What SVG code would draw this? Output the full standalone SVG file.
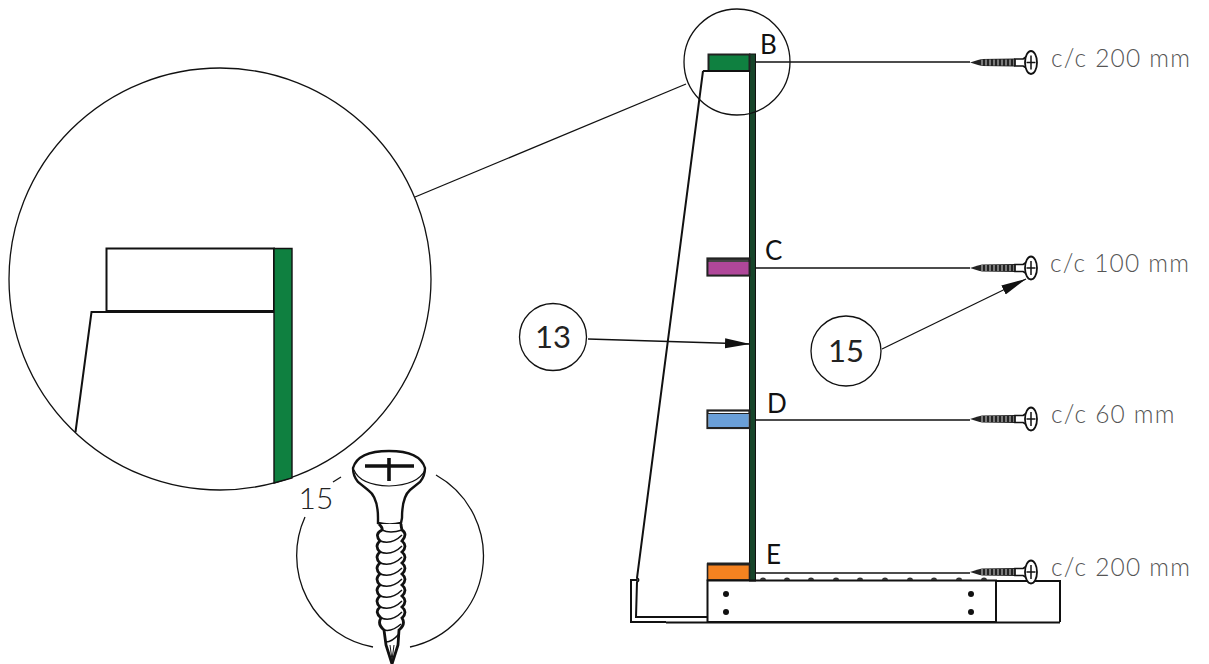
<svg xmlns="http://www.w3.org/2000/svg" width="1209" height="664" viewBox="0 0 1209 664">
<style>
.l{fill:none;stroke:#111;stroke-width:1.3}
.m{fill:none;stroke:#111;stroke-width:2}
.t{font-family:"Lato","Liberation Sans",sans-serif;font-weight:300;font-size:24.5px;fill:#555;letter-spacing:1.2px}
.k{font-family:"Lato","Liberation Sans",sans-serif;font-weight:400;font-size:26px;fill:#111}
.n{font-family:"Lato","Liberation Sans",sans-serif;font-weight:400;font-size:31px;fill:#222;text-anchor:middle}
</style>
<defs>
<marker id="a" markerWidth="26" markerHeight="12" refX="25" refY="6" orient="auto" markerUnits="userSpaceOnUse"><path d="M0 1 L25 6 L0 11 Z" fill="#111"/></marker>
<g id="s">
<path d="M0 0 L8 -2.500 L12 -3.500 L45 -4 L45 4 L12 3.500 L8 2.500 Z" fill="#222"/>
<path d="M12 -3 V3 M16 -3 V3 M20 -3 V3 M24 -3 V3 M28 -3 V3 M32 -3 V3 M36 -3 V3 M40 -3 V3 M44 -3 V3" stroke="#fff" stroke-width=".8" fill="none"/>
<path d="M45 -3.500 H53 Q58 -6 60 -10 L60 11 Q58 6 53 3.500 H45 Z" fill="#fff" stroke="#111" stroke-width="1.700"/>
<ellipse cx="61" cy="0" rx="6" ry="11.500" fill="#fff" stroke="#111" stroke-width="1.800"/>
<path d="M61 -7 V7 M56.500 0 H65.500" stroke="#111" stroke-width="1.500"/>
</g>
</defs>

<g id="connectors">
<path class="l" d="M415 197 L686 84"/>
<path class="l" d="M755 62 H970"/>
<path class="l" d="M755 268 H970"/>
<path class="l" d="M755 420 H970"/>
<path class="l" d="M755 573 H970"/>
<path class="l" d="M588 339 L750 344" marker-end="url(#a)"/>
<path class="l" d="M882 349 L1026 279" marker-end="url(#a)"/>
</g>

<g id="detail-circle">
<circle cx="220" cy="279" r="211" class="l"/>
<rect x="106.500" y="248.500" width="167.500" height="62.500" class="m"/>
<path d="M274 248.500 H292 V478 L274 483 Z" fill="#0f8040" stroke="#111" stroke-width="1.400"/>
<path class="m" d="M75.500 432 L91.500 312 H274"/>
</g>

<g id="screw-detail">
<path class="l" d="M305 517 A93 93 0 0 0 373 647"/>
<path class="l" d="M333 482 L341 477"/>
<path class="l" d="M436 475 A93 93 0 0 1 410 647"/>
<text x="316" y="509" class="n" style="font-size:30px;font-weight:300">15</text>
<path d="M378 518 Q378 497 368 490 L358 482 Q353 476 353 468 Q358 451 389 451 Q420 451 425 468 Q425 476 420 482 L410 490 Q402 497 402 518 L401 523 Q390 526 378 523 Z" fill="#fff" stroke="#111" stroke-width="2.400"/>
<path d="M354 470 Q360 485 389 486 Q418 485 425 470" fill="none" stroke="#111" stroke-width="1.200"/>
<path d="M365 466 H414 M389 458 V481" stroke="#111" stroke-width="3.600"/>
<path d="M379 524 Q383 528 382 530 Q374 534 380 541 Q374 546 380 552 Q374 557 380 563 Q374 568 380 574 Q374 579 380 585 Q374 590 380 596 Q374 601 380 607 Q374 612 381 618 Q377 624 384 630 L386 645 L392 664 L398 645 L399 630 Q406 624 402 618 Q408 612 402 607 Q408 601 402 596 Q408 590 402 585 Q408 579 402 574 Q408 568 402 563 Q408 557 402 552 Q408 546 402 541 Q408 534 402 530 Q401 526 401 524" fill="#fff" stroke="#111" stroke-width="2.800"/>
<path d="M382 530 Q390 534 402 530 M380 541 Q392 545 402 535 M380 552 Q392 556 402 546 M380 563 Q392 567 402 557 M380 574 Q392 578 402 568 M380 585 Q392 589 402 579 M380 596 Q392 600 402 590 M380 607 Q392 611 402 601 M381 618 Q392 622 402 612 M384 630 Q392 632 401 624 M386 642 Q392 642 399 634" fill="none" stroke="#111" stroke-width="1.500"/>
<path d="M390 645 L392 660 L394 645" fill="none" stroke="#111" stroke-width="1"/>
</g>

<g id="panel">
<path class="m" d="M703 71 L637 578 Q640 580 637 582 L636 617 H707"/>
<rect x="749.500" y="54" width="6" height="527" fill="#17452a" stroke="#111" stroke-width="1"/>
</g>

<g id="block-b">
<rect x="708.500" y="54.500" width="41" height="16.500" fill="#0f8040" stroke="#222" stroke-width="2"/>
<path class="m" d="M703 71 H750"/>
<circle cx="737" cy="62" r="53" class="l"/>
</g>
<g id="block-c">
<rect x="707.500" y="258.500" width="42" height="17" fill="#444" stroke="#222" stroke-width="2.200"/>
<rect x="708.500" y="262" width="40" height="12.500" fill="#b0479a"/>
</g>
<g id="block-d">
<rect x="707.500" y="410.500" width="42" height="17.500" fill="#fff" stroke="#222" stroke-width="2.200"/>
<rect x="708.500" y="414" width="40" height="13" fill="#6a9fd8"/>
<path d="M707 413.500 H750" stroke="#222" stroke-width="1"/>
</g>
<g id="block-e">
<rect x="707.500" y="564" width="42" height="16" fill="#f58220" stroke="#222" stroke-width="1.600"/>
<path d="M707 564 H750" stroke="#222" stroke-width="3"/>
</g>

<g id="base">
<path class="m" d="M637 580 H631 V622 H666"/>
<path d="M666 622.500 H1060" stroke="#111" stroke-width="2.200"/>
<rect x="707.500" y="580.500" width="288.500" height="41.500" class="m"/>
<path class="m" d="M996 581 H1060 V622"/>
<g fill="#111">
<circle cx="726" cy="594" r="3"/><circle cx="726" cy="612" r="3"/><circle cx="971" cy="594" r="3"/><circle cx="971" cy="612" r="3"/>
</g>
<g fill="#333">
<path d="M760 580 a3 2.500 0 0 1 6 0Z M784 580 a3 2.500 0 0 1 6 0Z M808 580 a3 2.500 0 0 1 6 0Z M833 580 a3 2.500 0 0 1 6 0Z M857 580 a3 2.500 0 0 1 6 0Z M882 580 a3 2.500 0 0 1 6 0Z M907 580 a3 2.500 0 0 1 6 0Z M931 580 a3 2.500 0 0 1 6 0Z M956 580 a3 2.500 0 0 1 6 0Z M981 580 a3 2.500 0 0 1 6 0Z"/>
</g>
</g>

<g id="screws">
<use href="#s" x="970" y="62.500"/>
<use href="#s" x="970" y="268"/>
<use href="#s" x="970" y="419"/>
<use href="#s" x="970" y="572"/>
</g>

<g id="callout-13"><circle cx="553" cy="337" r="33.500" class="l"/><text x="553" y="348" class="n">13</text></g>
<g id="callout-15"><circle cx="846" cy="351" r="35" class="l"/><text x="846" y="362" class="n">15</text></g>

<g id="labels">
<text x="760" y="54" class="k">B</text>
<text x="765" y="260" class="k">C</text>
<text x="767" y="413" class="k">D</text>
<text x="766" y="564" class="k">E</text>
<text x="1051" y="67" class="t">c/c 200 mm</text>
<text x="1050" y="272" class="t">c/c 100 mm</text>
<text x="1051" y="423" class="t">c/c 60 mm</text>
<text x="1051" y="576" class="t">c/c 200 mm</text>
</g>
</svg>
